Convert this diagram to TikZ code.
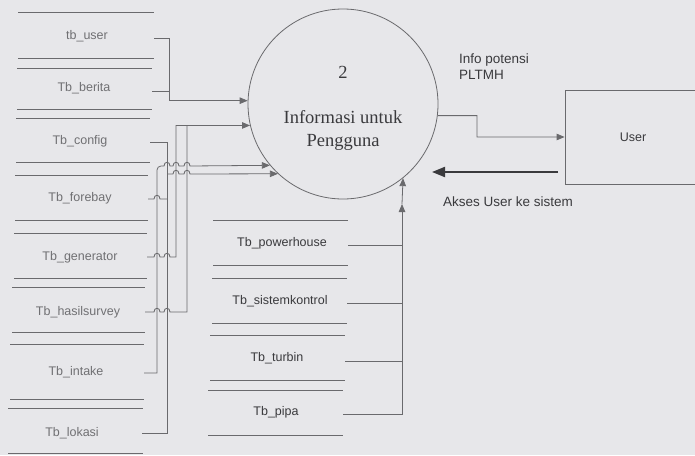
\documentclass[tikz,border=0pt]{standalone}
\usepackage{fontspec}
\setmainfont{Liberation Sans}
\newfontfamily\serifa{Liberation Serif}
\usetikzlibrary{arrows.meta}
\definecolor{bg}{HTML}{E7E7EA}
\definecolor{ln}{HTML}{6A6A6D}
\definecolor{txl}{HTML}{707073}
\definecolor{txr}{HTML}{3A3A3D}
\begin{document}
\begin{tikzpicture}[x=1pt,y=-1pt,
  wire/.style={draw=ln, line width=0.8pt},
  arr/.style={wire, -{Triangle[length=8pt,width=6.5pt]}},
  bigarr/.style={draw=txr, line width=2pt, -{Triangle[length=13pt,width=10pt]}},
  hop/.style 2 args={insert path={-- (#1-3,#2) .. controls (#1-3,#2-5) and (#1+3,#2-5) .. (#1+3,#2)}},
  storeline/.style={draw=ln, line width=0.7pt},
  lbl/.style={font=\fontsize{12.5}{14}\selectfont, text=txl, inner sep=0pt},
  rlbl/.style={font=\fontsize{12.5}{14}\selectfont, text=txr, inner sep=0pt},
  flowtxt/.style={font=\fontsize{13.5}{16}\selectfont, text=txr, inner sep=0pt}
]
\clip (0,0) rectangle (695,455);
\fill[bg] (0,0) rectangle (695,455);

% process
\node[circle, draw=ln, line width=0.8pt, minimum size=190pt, inner sep=0pt] (proc) at (343,104) {};
\node[text=txr, font=\serifa\fontsize{18.5}{23}\selectfont, inner sep=0pt] (pnum) at (343,72) {2};
\node[text=txr, font=\serifa\fontsize{18.5}{23}\selectfont, inner sep=0pt, align=center, anchor=north]
      (pname) at (343,110) {Informasi untuk\\Pengguna};

% external entity
\node[draw=ln, line width=0.8pt, minimum width=136pt, minimum height=94pt,
      rlbl] (user) at (633,137) {User};

% left data stores
\draw[storeline] (18,12) -- (154,12) (18,58) -- (154,58);
\node[lbl] (s1) at (87,36) {tb\_user};
\draw[storeline] (17,68) -- (152,68) (17,109) -- (152,109);
\node[lbl] (s2) at (84,88) {Tb\_berita};
\draw[storeline] (16,118) -- (150,118) (16,162) -- (150,162);
\node[lbl] (s3) at (80,141) {Tb\_config};
\draw[storeline] (15,175) -- (148,175) (15,220) -- (148,220);
\node[lbl] (s4) at (80,198) {Tb\_forebay};
\draw[storeline] (14,233) -- (147,233) (14,278) -- (147,278);
\node[lbl] (s5) at (80,257) {Tb\_generator};
\draw[storeline] (12,287) -- (145,287) (12,332) -- (145,332);
\node[lbl] (s6) at (78,312) {Tb\_hasilsurvey};
\draw[storeline] (10,344) -- (144,344) (10,399) -- (144,399);
\node[lbl] (s7) at (76,372) {Tb\_intake};
\draw[storeline] (8,408) -- (143,408) (8,453) -- (143,453);
\node[lbl] (s8) at (72,433) {Tb\_lokasi};

\coordinate (s1r) at (154,38);
\coordinate (s2r) at (152,91);
\coordinate (s3r) at (150,142);
\coordinate (s4r) at (148,199);
\coordinate (s5r) at (147,257);
\coordinate (s6r) at (145,312);
\coordinate (s7r) at (144,373);
\coordinate (s8r) at (142,433);

% right data stores
\draw[storeline] (213,220) -- (348,220) (213,265) -- (348,265);
\node[rlbl] (r1) at (282,243) {Tb\_powerhouse};
\draw[storeline] (212,278) -- (347,278) (212,323) -- (347,323);
\node[rlbl] (r2) at (280,301) {Tb\_sistemkontrol};
\draw[storeline] (210,335) -- (345,335) (210,380) -- (345,380);
\node[rlbl] (r3) at (277,358) {Tb\_turbin};
\draw[storeline] (208,390) -- (343,390) (208,435) -- (343,435);
\node[rlbl] (r4) at (276,412) {Tb\_pipa};

\coordinate (r1r) at (348,245);
\coordinate (r2r) at (347,303);
\coordinate (r3r) at (345,361);
\coordinate (r4r) at (343,414);

% left connectors
\draw[arr] (s1r) -- (169,38) |- (proc.178);
\draw[wire] (s2r) -- (169,91);
\draw[arr] (s5r) [hop={157}{257}] [hop={167}{257}] -- (176,257) |- (proc.193);
\draw[wire] (s6r) [hop={157}{312}] [hop={167}{312}] -- (187,312) -- (187,125.4);
\draw[wire] (s3r) -- (167,142) -- (167,433) -- (s8r);
\draw[wire] (s4r) [hop={157}{199}] -- (167,199);
\draw[arr] (167,174) [hop={176}{174}] [hop={187}{174}] -- (proc.227.5);
\draw[wire] (s7r) -- (157,373) [rounded corners=4pt] -- (157,166) -- (162,166);
\draw[arr] (162,166) [hop={167}{166}] [hop={176}{166}] [hop={187}{166}] -- (proc.220.7);

% right connectors
\draw[wire] (r1r) -- (402,245);
\draw[wire] (r2r) -- (402,303);
\draw[wire] (r3r) -- (402,361);
\draw[arr] (r4r) -- (402,414) -- (402,204);
\draw[arr] (402,204) -- (proc.-51.6);

% flows with user
\draw[arr] (proc.-7) -- (477,115.6) |- (user.west);
\node[flowtxt, anchor=north west, align=left] (info) at (459,54) {Info potensi\\PLTMH};
\coordinate (ak1) at (558,172);
\coordinate (ak2) at (432,172);
\draw[bigarr] (ak1) -- (ak2);
\node[flowtxt, anchor=west] (akses) at (443,202) {Akses User ke sistem};
\end{tikzpicture}
\end{document}
